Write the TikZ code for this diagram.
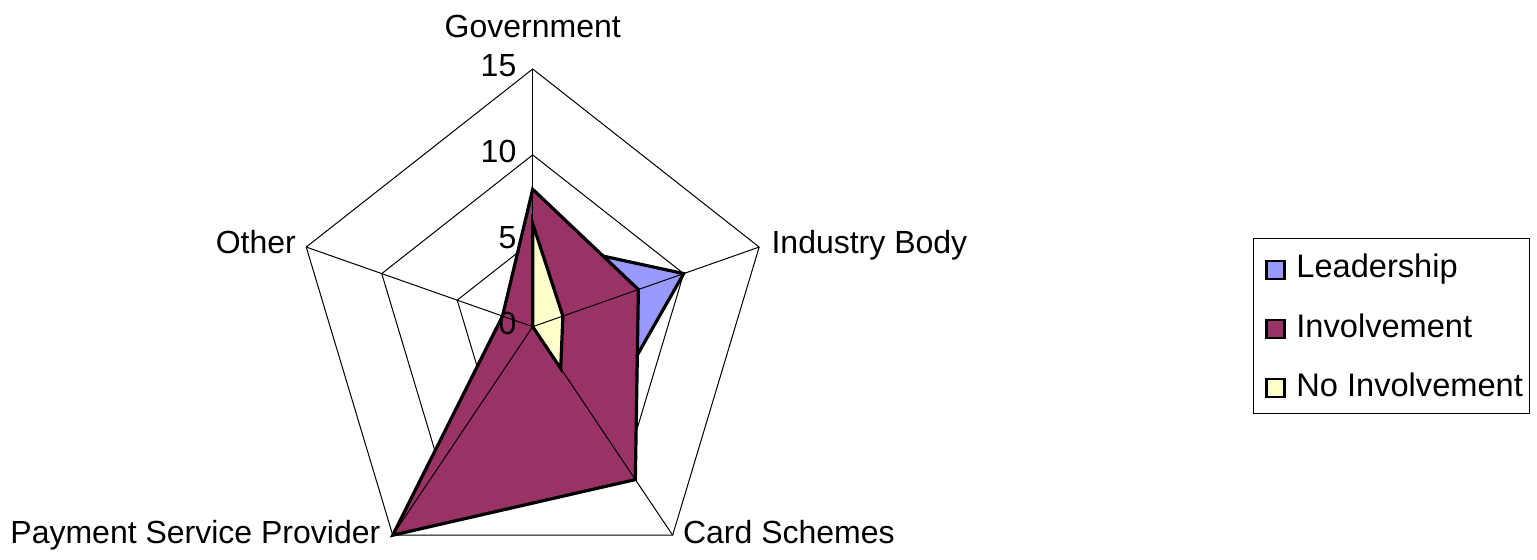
\documentclass[tikz,border=0pt]{standalone}
\usepackage{fontspec}
\setmainfont{Liberation Sans}
\definecolor{leadcol}{HTML}{9999FF}
\definecolor{involcol}{HTML}{993366}
\definecolor{nocol}{HTML}{FFFFCC}

\begin{document}
\begin{tikzpicture}[x=0.5pt,y=-0.5pt,
    grid/.style={black,line width=0.5pt},
    series/.style={draw=black,line width=1.6pt,line join=miter},
    catlabel/.style={font=\fontsize{16}{18}\selectfont,inner sep=0pt},
    vallabel/.style={font=\fontsize{16}{18}\selectfont,inner sep=0pt,anchor=east,xshift=-8pt,yshift=1.5pt},
    legsq/.style={draw=black,line width=1.2pt,minimum size=9pt,inner sep=0pt},
    legtxt/.style={font=\fontsize{16.3}{18}\selectfont,inner sep=0pt,anchor=base west}]
  \useasboundingbox (0,0) rectangle (1537,560);

  \begin{scope}[shift={(532.7,326.7)},x=7.937pt,y=8.59pt]
    % rings
    \foreach \r in {5,10,15}
      \draw[grid] (90:\r) -- (18:\r) -- (-54:\r) -- (-126:\r) -- (162:\r) -- cycle;
    % series
    \draw[series,fill=leadcol] (90:5) -- (18:10) -- (-54:7) -- (-126:0) -- (162:0) -- cycle;
    \draw[series,fill=involcol] (90:8) -- (18:7) -- (-54:11) -- (-126:15) -- (162:2) -- cycle;
    \draw[series,fill=nocol] (90:6) -- (18:2) -- (-54:3) -- (-126:0) -- (162:0) -- cycle;
    % spokes
    \coordinate (ctr) at (0,0);
    \foreach \a/\n in {90/gov,18/ind,-54/card,-126/psp,162/oth}
      \coordinate (\n) at (\a:15);
    \foreach \n in {gov,ind,card,psp,oth}
      \draw[grid] (ctr) -- (\n);
    % value labels
    \foreach \v in {0,5,10,15}
      \node[vallabel] (val\v) at (90:\v) {\v};
    % categories
    \node[catlabel,anchor=base] (govlab) at ([yshift=15.5pt]gov) {Government};
    \node[catlabel,anchor=base west] (indlab) at ([xshift=6pt,yshift=-3pt]ind) {Industry Body};
    \node[catlabel,anchor=base west] (cardlab) at ([xshift=5pt,yshift=-4pt]card) {Card Schemes};
    \node[catlabel,anchor=base east] (psplab) at ([xshift=-6pt,yshift=-4pt]psp) {Payment Service Provider};
    \node[catlabel,anchor=base east] (othlab) at ([xshift=-5pt,yshift=-3pt]oth) {Other};
  \end{scope}

  % legend
  \draw[line width=0.5pt] (1253.3,238.3) rectangle (1529.3,414);
  \node[legsq,fill=leadcol] (sqlead) at (1275.5,270) {};
  \node[legsq,fill=involcol] (sqinvol) at (1275.5,329) {};
  \node[legsq,fill=nocol] (sqno) at (1275.5,388) {};
  \node[legtxt] (txtlead) at (1296,278) {Leadership};
  \node[legtxt] (txtinvol) at (1296,337.5) {Involvement};
  \node[legtxt] (txtno) at (1296,396.5) {No Involvement};
\end{tikzpicture}
\end{document}
